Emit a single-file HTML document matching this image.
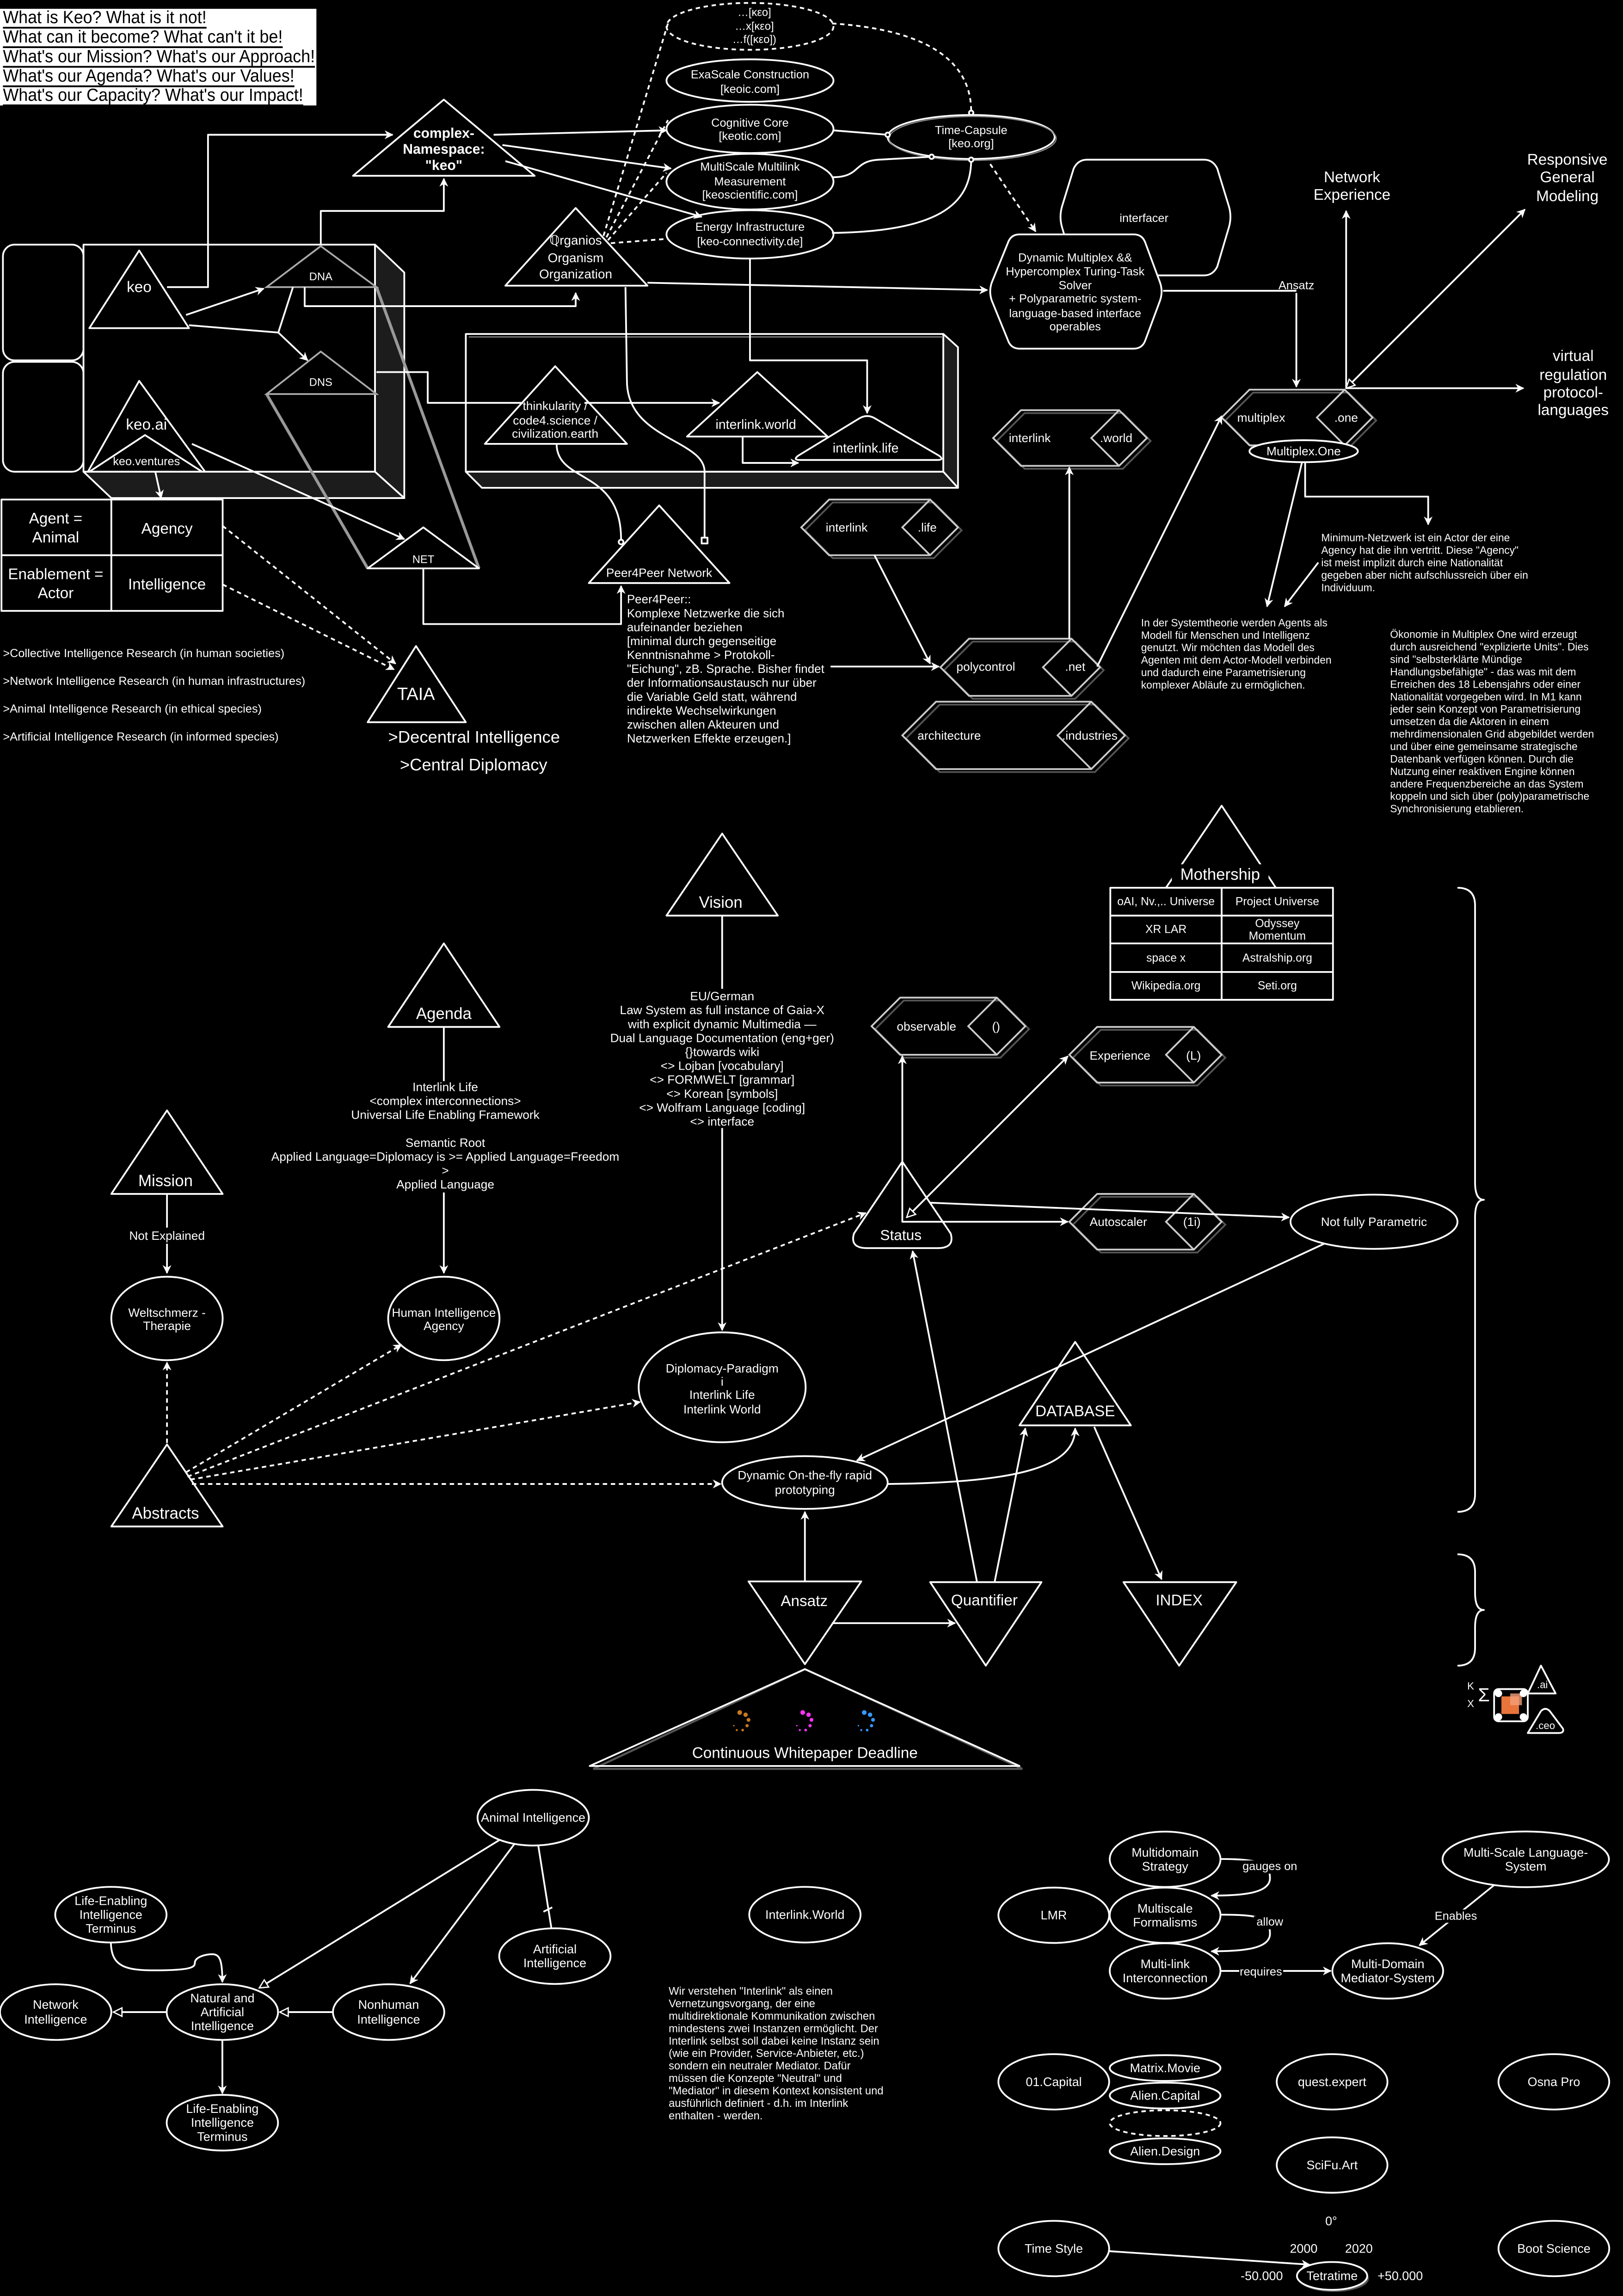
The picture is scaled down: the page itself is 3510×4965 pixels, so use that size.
<!DOCTYPE html>
<html><head><meta charset="utf-8"><style>
html,body{margin:0;padding:0;background:#000;}
svg{display:block;}
text{font-family:"Liberation Sans",Arial,sans-serif;fill:#fff;dominant-baseline:central;}
.s{stroke:#fff;stroke-width:1.2;fill:none;stroke-linejoin:round;}
.g{stroke:#aaa;stroke-width:1.2;fill:none;}
.d{stroke:#fff;stroke-width:1.2;fill:none;stroke-dasharray:3 2.5;}
.m{text-anchor:middle;}
</style></head><body>
<svg xmlns="http://www.w3.org/2000/svg" width="3510" height="4965" viewBox="0 0 1108 1567.3">
<defs>
<marker id="a" viewBox="0 0 10 10" refX="9" refY="5" markerWidth="5" markerHeight="5" orient="auto-start-reverse"><path d="M0,0 L10,5 L0,10 L3,5z" fill="#fff"/></marker>
<marker id="h" viewBox="0 0 10 10" refX="9" refY="5" markerWidth="6" markerHeight="6" orient="auto-start-reverse"><path d="M1,1 L9,5 L1,9z" fill="#000" stroke="#fff" stroke-width="1.2"/></marker>
</defs>
<rect width="1108" height="1567.3" fill="#000"/>

<!-- header -->
<rect x="0" y="6" width="216" height="66" fill="#fff"/>
<g font-size="12" style="text-decoration:underline">
<text x="2" y="12" style="fill:#000" textLength="139" lengthAdjust="spacingAndGlyphs">What is Keo? What is it not!</text>
<text x="2" y="25.3" style="fill:#000" textLength="191" lengthAdjust="spacingAndGlyphs">What can it become? What can't it be!</text>
<text x="2" y="38.7" style="fill:#000" textLength="213" lengthAdjust="spacingAndGlyphs">What's our Mission? What's our Approach!</text>
<text x="2" y="52" style="fill:#000" textLength="199" lengthAdjust="spacingAndGlyphs">What's our Agenda? What's our Values!</text>
<text x="2" y="65" style="fill:#000" textLength="205" lengthAdjust="spacingAndGlyphs">What's our Capacity? What's our Impact!</text>
</g>

<!-- big 3D box -->
<polygon points="256,167 276,186 276,340 256,322" style="fill:#1c1c1c" class="s"/>
<polygon points="57,322 256,322 276,340 76,340" style="fill:#1c1c1c" class="s"/>
<rect x="57" y="167" width="199" height="155" class="s"/>
<rect x="2" y="167" width="55" height="79" rx="8" class="s"/>
<rect x="2" y="247" width="55" height="75" rx="8" class="s"/>

<!-- box2 -->
<polygon points="644,228 654,237 654,333 644,322" style="fill:#1c1c1c" class="s"/>
<polygon points="318,322 644,322 654,333 329,333" style="fill:#1c1c1c" class="s"/>
<rect x="318" y="228" width="326" height="94" class="s"/>
<line x1="320" y1="230" x2="644" y2="230" stroke="#888" stroke-width="0.8"/>

<!-- gray prism lines -->
<line x1="182" y1="269" x2="251" y2="388" stroke="#999" stroke-width="2"/>
<line x1="257" y1="196" x2="327" y2="388" stroke="#999" stroke-width="2"/>
<polygon points="219,168 182,196 257,196" class="g"/>
<polygon points="219,240 182,269 257,269" class="g"/>
<text x="219" y="189" class="m" font-size="7.5">DNA</text>
<text x="219" y="261" class="m" font-size="7.5">DNS</text>
<polygon points="289,360 251,388 327,388" class="s"/>
<text x="289" y="382" class="m" font-size="7.5">NET</text>

<!-- keo triangles -->
<polygon points="95,171 61,224 129,224" class="s"/>
<text x="95" y="196" class="m" font-size="10.5">keo</text>
<polygon points="95,260 60,322 140,322" class="s"/>
<text x="100" y="290" class="m" font-size="10.5">keo.ai</text>
<polygon points="99,297 61,322 138,322" class="s"/>
<text x="100" y="315" class="m" font-size="8">keo.ventures</text>

<!-- table -->
<rect x="1" y="341" width="151" height="76" class="s"/>
<line x1="76" y1="341" x2="76" y2="417" class="s"/>
<line x1="1" y1="379" x2="152" y2="379" class="s"/>
<text x="38" y="354" class="m" font-size="10.5">Agent =</text>
<text x="38" y="367" class="m" font-size="10.5">Animal</text>
<text x="114" y="361" class="m" font-size="10.5">Agency</text>
<text x="38" y="392" class="m" font-size="10.5">Enablement =</text>
<text x="38" y="405" class="m" font-size="10.5">Actor</text>
<text x="114" y="399" class="m" font-size="10.5">Intelligence</text>

<!-- complex namespace -->
<polygon points="303,68 241,120 365,120" class="s"/>
<g font-size="9.5" font-weight="bold"><text x="303" y="91" class="m">complex-</text><text x="303" y="102" class="m">Namespace:</text><text x="303" y="113" class="m">"keo"</text></g>

<!-- organism -->
<polygon points="393,142 345,195 442,195" class="s"/>
<g font-size="8.8"><text x="393" y="164" class="m">ℚrganios</text><text x="393" y="176" class="m">Organism</text><text x="393" y="187" class="m">Organization</text></g>

<!-- ellipses top -->
<ellipse cx="512" cy="18" rx="57" ry="16" class="d" stroke="#aaa"/>
<g font-size="7.5"><text x="515" y="8.5" class="m">…[κεο]</text><text x="515" y="18" class="m">…x[κεο]</text><text x="515" y="27" class="m">…f([κεο])</text></g>
<ellipse cx="512" cy="55" rx="57" ry="14.5" class="s"/>
<g font-size="8"><text x="512" y="51" class="m">ExaScale Construction</text><text x="512" y="61" class="m">[keoic.com]</text></g>
<ellipse cx="512" cy="88" rx="57" ry="16.5" class="s"/>
<g font-size="8"><text x="512" y="84" class="m">Cognitive Core</text><text x="512" y="93" class="m">[keotic.com]</text></g>
<ellipse cx="512" cy="124" rx="57" ry="19" class="s"/>
<g font-size="8"><text x="512" y="114" class="m">MultiScale Multilink</text><text x="512" y="124" class="m">Measurement</text><text x="512" y="133" class="m">[keoscientific.com]</text></g>
<ellipse cx="512" cy="160" rx="57" ry="16.5" class="s"/>
<g font-size="8"><text x="512" y="155" class="m">Energy Infrastructure</text><text x="512" y="165" class="m">[keo-connectivity.de]</text></g>
<ellipse cx="663" cy="93.5" rx="57" ry="15" class="s"/>
<ellipse cx="664" cy="94.5" rx="57" ry="15" stroke="#888" fill="none" stroke-width="0.8"/>
<g font-size="8"><text x="663" y="89" class="m">Time-Capsule</text><text x="663" y="98" class="m">[keo.org]</text></g>

<!-- interfacer / dynamic -->
<path d="M742,109 L822,109 Q828,109 831,115 L839,141 Q841,148 839,155 L831,182 Q828,188 822,188 L742,188 Q736,188 733,182 L725,155 Q723,148 725,141 L733,115 Q736,109 742,109 Z" class="s" stroke="#ccc" stroke-width="1.6"/>
<text x="781" y="149" class="m" font-size="8">interfacer</text>
<path d="M696,160 L774,160 Q780,160 782,166 L792,193 Q794,199 792,205 L782,232 Q780,238 774,238 L696,238 Q690,238 688,232 L677,205 Q675,199 677,193 L688,166 Q690,160 696,160 Z" style="fill:#000" class="s" stroke="#ccc" stroke-width="1.6"/>
<g font-size="8"><text x="734" y="176" class="m">Dynamic Multiplex &amp;&amp;</text><text x="734" y="185.5" class="m">Hypercomplex Turing-Task</text><text x="734" y="195" class="m">Solver</text><text x="734" y="204" class="m">+ Polyparametric system-</text><text x="734" y="214" class="m">language-based interface</text><text x="734" y="223" class="m">operables</text></g>

<!-- connectors top -->
<polyline points="114,196 142,196 142,92 268,92" class="s" marker-end="url(#a)"/>
<polyline points="219,167 219,144 303,144 303,122" class="s" marker-end="url(#a)"/>
<line x1="127" y1="215" x2="180" y2="197" class="s" marker-end="url(#a)"/>
<polyline points="129,222 190,227 210,246" class="s" marker-end="url(#a)"/>
<line x1="200" y1="196" x2="190" y2="227" class="s"/>
<polyline points="208,196 208,209 393,209 393,200" class="s" marker-end="url(#a)"/>
<line x1="337" y1="92" x2="455" y2="89" class="s" marker-end="url(#a)"/>
<line x1="343" y1="99" x2="458" y2="115" class="s" marker-end="url(#a)"/>
<line x1="345" y1="110" x2="479" y2="148" class="s" marker-end="url(#a)"/>
<line x1="442" y1="193" x2="674" y2="198" class="s" marker-end="url(#a)"/>
<polyline points="512,176 512,246 592,246 592,282" class="s" marker-end="url(#a)"/>
<line x1="412" y1="161" x2="456" y2="16" class="d"/>
<line x1="415" y1="164" x2="455" y2="118" class="d"/>
<line x1="417" y1="166" x2="456" y2="163" class="d"/>
<line x1="414" y1="162" x2="456" y2="82" class="d"/>
<path d="M568,16 C630,20 663,40 663,76" class="d"/>
<circle cx="663" cy="77" r="1.5" class="s" style="fill:#000"/>
<line x1="676" y1="112" x2="707" y2="158" class="d" marker-end="url(#a)"/>
<line x1="569" y1="89" x2="606" y2="92" class="s"/>
<circle cx="606" cy="92" r="1.5" class="s" style="fill:#000"/>
<path d="M568,121 C588,121 582,110 600,109 L636,107" class="s"/>
<circle cx="636" cy="107" r="1.5" class="s" style="fill:#000"/>
<path d="M568,159 C640,158 663,140 663,109" class="s"/>
<circle cx="663" cy="109" r="1.5" class="s" style="fill:#000"/>

<!-- Ansatz / multiplex axes -->
<polyline points="794,198.5 885,198.5" class="s"/>
<text x="885" y="195" class="m" font-size="8">Ansatz</text>
<line x1="885" y1="200" x2="885" y2="264" class="s" marker-end="url(#a)"/>
<line x1="919" y1="265" x2="919" y2="144" class="s" marker-end="url(#a)"/>
<line x1="919" y1="265" x2="1041" y2="143" class="s" marker-start="url(#h)" marker-end="url(#a)"/>
<line x1="919" y1="265" x2="1040" y2="265" class="s" marker-end="url(#a)"/>
<g font-size="10.5"><text x="923" y="121" class="m">Network</text><text x="923" y="133" class="m">Experience</text>
<text x="1070" y="109" class="m">Responsive</text><text x="1070" y="121" class="m">General</text><text x="1070" y="134" class="m">Modeling</text>
<text x="1074" y="243" class="m">virtual</text><text x="1074" y="256" class="m">regulation</text><text x="1074" y="268" class="m">protocol-</text><text x="1074" y="280" class="m">languages</text></g>

<!-- hexes -->
<g stroke="#555" stroke-width="1.2" fill="none" transform="translate(2.5,2)">
<polygon points="834,285 853,266 918,266 937,285 918,304 853,304"/>
<polygon points="678,299 697,280 764,280 783,299 764,318 697,318"/>
<polygon points="547,360 566,341 635,341 654,360 635,379 566,379"/>
<polygon points="642,455.5 661.5,436 731.5,436 751,455.5 731.5,475 661.5,475"/>
<polygon points="616,502 639,479 745,479 768,502 745,525 639,525"/>
<polygon points="595,700.5 614.5,681 680.5,681 700,700.5 680.5,720 614.5,720"/>
<polygon points="730,720 749,701 815,701 834,720 815,739 749,739"/>
<polygon points="730,834 749,815 815,815 834,834 815,853 749,853"/>
</g>
<g stroke="#ccc" stroke-width="1.2" fill="none">
<polygon points="834,285 853,266 918,266 937,285 918,304 853,304"/><polyline points="918,266 899,285 918,304"/>
<polygon points="678,299 697,280 764,280 783,299 764,318 697,318"/><polyline points="764,280 745,299 764,318"/>
<polygon points="547,360 566,341 635,341 654,360 635,379 566,379"/><polyline points="635,341 616,360 635,379"/>
<polygon points="642,455.5 661.5,436 731.5,436 751,455.5 731.5,475 661.5,475"/><polyline points="731.5,436 712,455.5 731.5,475"/>
<polygon points="616,502 639,479 745,479 768,502 745,525 639,525"/><polyline points="745,479 722,502 745,525"/>
<polygon points="595,700.5 614.5,681 680.5,681 700,700.5 680.5,720 614.5,720"/><polyline points="680.5,681 661,700.5 680.5,720"/>
<polygon points="730,720 749,701 815,701 834,720 815,739 749,739"/><polyline points="815,701 796,720 815,739"/>
<polygon points="730,834 749,815 815,815 834,834 815,853 749,853"/><polyline points="815,815 796,834 815,853"/>
</g>
<g font-size="8.3">
<text x="861" y="285" class="m">multiplex</text><text x="919" y="285" class="m">.one</text>
<text x="703" y="299" class="m">interlink</text><text x="762" y="299" class="m">.world</text>
<text x="578" y="360" class="m">interlink</text><text x="633" y="360" class="m">.life</text>
<text x="673" y="455" class="m">polycontrol</text><text x="734" y="455" class="m">.net</text>
<text x="648" y="502" class="m">architecture</text><text x="744" y="502" class="m">.industries</text>
<text x="632.5" y="700.6" class="m">observable</text><text x="680" y="700.6" class="m">()</text>
<text x="764.6" y="720.5" class="m">Experience</text><text x="814.8" y="720.5" class="m">(L)</text>
<text x="763.5" y="834" class="m">Autoscaler</text><text x="813.7" y="834" class="m">(1i)</text>
</g>
<ellipse cx="890" cy="308" rx="37" ry="7.5" class="s" style="fill:#000"/>
<text x="890" y="308" class="m" font-size="8.3">Multiplex.One</text>

<!-- box2 triangles -->
<polygon points="379,250 331,303 428,303" class="s"/>
<g font-size="8.3"><text x="379" y="277" class="m">thinkularity /</text><text x="379" y="287" class="m">code4.science /</text><text x="379" y="296" class="m">civilization.earth</text></g>
<polygon points="517,254 469,298 565,298" class="s"/>
<text x="516" y="290" class="m" font-size="9">interlink.world</text>
<path d="M586,286 Q592,282 598,286 L641,311 Q645,314 640,314 L546,314 Q541,314 545,311 Z" class="s"/>
<text x="591" y="306" class="m" font-size="9">interlink.life</text>
<polyline points="257,254 292,254 292,275 357,275" class="s"/>
<line x1="399" y1="275" x2="491" y2="275" class="s" marker-end="url(#a)"/>
<polyline points="507,298 507,316 545,316" class="s" marker-end="url(#a)"/>

<!-- peer4peer -->
<path d="M427,196 L428,260 C428,300 481,300 481,322 L481,368" class="s"/>
<rect x="479" y="367" width="4" height="4" class="s" style="fill:#000"/>
<path d="M380,303 C380,330 424,320 424,368" class="s"/>
<circle cx="424" cy="370" r="1.6" class="s" style="fill:#000"/>
<polygon points="450,345 402,398 498,398" class="s"/>
<text x="450" y="391" font-size="8.3" class="m">Peer4Peer Network</text>
<polyline points="289,388 289,426 424,426 424,400" class="s" marker-end="url(#a)"/>
<g font-size="8.2"><text x="428" y="409">Peer4Peer::</text><text x="428" y="418.5">Komplexe Netzwerke die sich</text><text x="428" y="428">aufeinander beziehen</text><text x="428" y="437.5">[minimal durch gegenseitige</text><text x="428" y="447">Kenntnisnahme &gt; Protokoll-</text><text x="428" y="456.5">"Eichung", zB. Sprache. Bisher findet</text><text x="428" y="466">der Informationsaustausch nur über</text><text x="428" y="475.5">die Variable Geld statt, während</text><text x="428" y="485">indirekte Wechselwirkungen</text><text x="428" y="494.5">zwischen allen Akteuren und</text><text x="428" y="504">Netzwerken Effekte erzeugen.]</text></g>
<line x1="567" y1="455" x2="641" y2="455" class="s" marker-end="url(#a)"/>
<line x1="131" y1="303" x2="276" y2="368" class="s" marker-end="url(#a)"/>
<line x1="106" y1="322" x2="110" y2="340" class="s" marker-end="url(#a)"/>
<line x1="152" y1="359" x2="270" y2="453" class="d" marker-end="url(#a)"/>
<line x1="152" y1="399" x2="269" y2="457" class="d" marker-end="url(#a)"/>
<polygon points="284,441 251,493 318,493" class="s"/>
<text x="284" y="474" class="m" font-size="12">TAIA</text>
<text x="265" y="503" font-size="11.5">&gt;Decentral Intelligence</text>
<text x="273" y="522" font-size="11.5">&gt;Central Diplomacy</text>
<g font-size="8"><text x="2" y="446">&gt;Collective Intelligence Research (in human societies)</text><text x="2" y="465">&gt;Network Intelligence Research (in human infrastructures)</text><text x="2" y="484">&gt;Animal Intelligence Research (in ethical species)</text><text x="2" y="503">&gt;Artificial Intelligence Research (in informed species)</text></g>

<!-- multiplex connectors -->
<line x1="597" y1="379" x2="635" y2="453" class="s" marker-end="url(#a)"/>
<line x1="730" y1="436" x2="730" y2="319" class="s" marker-end="url(#a)"/>
<line x1="749" y1="455" x2="834" y2="284" class="s" marker-end="url(#a)"/>
<line x1="889" y1="315" x2="865" y2="414" class="s" marker-end="url(#a)"/>
<polyline points="891,315 891,339 975,339 975,358" class="s" marker-end="url(#a)"/>
<line x1="900" y1="384" x2="877" y2="414" class="s" marker-end="url(#a)"/>
<g font-size="7.2"><text x="902" y="367">Minimum-Netzwerk ist ein Actor der eine</text><text x="902" y="375.5">Agency hat die ihn vertritt. Diese "Agency"</text><text x="902" y="384">ist meist implizit durch eine Nationalität</text><text x="902" y="392.5">gegeben aber nicht aufschlussreich über ein</text><text x="902" y="401">Individuum.</text></g>
<g font-size="7.2"><text x="779" y="425">In der Systemtheorie werden Agents als</text><text x="779" y="433.5">Modell für Menschen und Intelligenz</text><text x="779" y="442">genutzt. Wir möchten das Modell des</text><text x="779" y="450.5">Agenten mit dem Actor-Modell verbinden</text><text x="779" y="459">und dadurch eine Parametrisierung</text><text x="779" y="467.5">komplexer Abläufe zu ermöglichen.</text></g>
<g font-size="7.2"><text x="949" y="433">Ökonomie in Multiplex One wird erzeugt</text><text x="949" y="441.5">durch ausreichend "explizierte Units". Dies</text><text x="949" y="450">sind "selbsterklärte Mündige</text><text x="949" y="458.5">Handlungsbefähigte" - das was mit dem</text><text x="949" y="467">Erreichen des 18 Lebensjahrs oder einer</text><text x="949" y="475.5">Nationalität vorgegeben wird. In M1 kann</text><text x="949" y="484">jeder sein Konzept von Parametrisierung</text><text x="949" y="492.5">umsetzen da die Aktoren in einem</text><text x="949" y="501">mehrdimensionalen Grid abgebildet werden</text><text x="949" y="509.5">und über eine gemeinsame strategische</text><text x="949" y="518">Datenbank verfügen können. Durch die</text><text x="949" y="526.5">Nutzung einer reaktiven Engine können</text><text x="949" y="535">andere Frequenzbereiche an das System</text><text x="949" y="543.5">koppeln und sich über (poly)parametrische</text><text x="949" y="552">Synchronisierung etablieren.</text></g>

<!-- middle section -->
<polygon points="493,569 455,625 531,625" class="s"/>
<text x="492" y="616" class="m" font-size="11">Vision</text>
<line x1="493" y1="625" x2="493" y2="675" class="s"/>
<g font-size="8.3"><text x="493" y="680" class="m">EU/German</text><text x="493" y="689.5" class="m">Law System as full instance of Gaia-X</text><text x="493" y="699" class="m">with explicit dynamic Multimedia —</text><text x="493" y="708.5" class="m">Dual Language Documentation (eng+ger)</text><text x="493" y="718" class="m">{}towards wiki</text><text x="493" y="727.5" class="m">&lt;&gt; Lojban [vocabulary]</text><text x="493" y="737" class="m">&lt;&gt; FORMWELT [grammar]</text><text x="493" y="746.5" class="m">&lt;&gt; Korean [symbols]</text><text x="493" y="756" class="m">&lt;&gt; Wolfram Language [coding]</text><text x="493" y="765.5" class="m">&lt;&gt; interface</text></g>
<line x1="493" y1="770" x2="493" y2="908" class="s" marker-end="url(#a)"/>
<ellipse cx="493" cy="947" rx="57" ry="37.5" class="s"/>
<g font-size="8.3"><text x="493" y="934" class="m">Diplomacy-Paradigm</text><text x="493" y="943" class="m">i</text><text x="493" y="952" class="m">Interlink Life</text><text x="493" y="962" class="m">Interlink World</text></g>

<polygon points="303,644 265,701 341,701" class="s"/>
<text x="303" y="692" class="m" font-size="11">Agenda</text>
<line x1="303" y1="701" x2="303" y2="738" class="s"/>
<g font-size="8.3"><text x="304" y="742" class="m">Interlink Life</text><text x="304" y="751.5" class="m">&lt;complex interconnections&gt;</text><text x="304" y="761" class="m">Universal Life Enabling Framework</text><text x="304" y="780" class="m">Semantic Root</text><text x="304" y="789.5" class="m">Applied Language=Diplomacy is &gt;= Applied Language=Freedom</text><text x="304" y="799" class="m">&gt;</text><text x="304" y="808.5" class="m">Applied Language</text></g>
<line x1="303" y1="814" x2="303" y2="869" class="s" marker-end="url(#a)"/>
<ellipse cx="303" cy="900" rx="38" ry="28.5" class="s"/>
<g font-size="8.3"><text x="303" y="896" class="m">Human Intelligence</text><text x="303" y="905" class="m">Agency</text></g>

<polygon points="114,758 76,815 152,815" class="s"/>
<text x="113" y="806" class="m" font-size="11">Mission</text>
<line x1="114" y1="815" x2="114" y2="869" class="s" marker-end="url(#a)"/>
<rect x="86" y="838" width="56" height="11" fill="#000"/>
<text x="114" y="843.5" class="m" font-size="8.3">Not Explained</text>
<ellipse cx="114" cy="900" rx="38" ry="28.5" class="s"/>
<g font-size="8.3"><text x="114" y="896" class="m">Weltschmerz -</text><text x="114" y="905" class="m">Therapie</text></g>

<polygon points="114,986 76,1042 152,1042" class="s"/>
<text x="113" y="1033" class="m" font-size="11">Abstracts</text>
<line x1="114" y1="985" x2="114" y2="930" class="d" marker-end="url(#a)"/>
<line x1="127" y1="1005" x2="274" y2="918" class="d" marker-end="url(#a)"/>
<line x1="128" y1="1008" x2="591" y2="828" class="d" marker-end="url(#a)"/>
<line x1="130" y1="1010" x2="437" y2="957" class="d" marker-end="url(#a)"/>
<line x1="131" y1="1013" x2="492" y2="1013" class="d" marker-end="url(#a)"/>

<ellipse cx="549.5" cy="1012" rx="56.5" ry="18" class="s"/>
<g font-size="8.3"><text x="549.5" y="1007" class="m">Dynamic On-the-fly rapid</text><text x="549.5" y="1017" class="m">prototyping</text></g>

<!-- mothership -->
<polygon points="834,550 796,606 871,606" class="s"/>
<rect x="800" y="590" width="66" height="14" fill="#000"/>
<text x="833" y="597" class="m" font-size="11">Mothership</text>
<g class="s" stroke-width="1.5"><rect x="758" y="606" width="152" height="76.5"/><line x1="834" y1="606" x2="834" y2="682.5"/><line x1="758" y1="625" x2="910" y2="625"/><line x1="758" y1="644" x2="910" y2="644"/><line x1="758" y1="663.5" x2="910" y2="663.5"/></g>
<g font-size="7.8"><text x="796" y="615.5" class="m">oAI, Nv.,.. Universe</text><text x="872" y="615.5" class="m">Project Universe</text><text x="796" y="634.5" class="m">XR LAR</text><text x="872" y="630.5" class="m">Odyssey</text><text x="872" y="639" class="m">Momentum</text><text x="796" y="654" class="m">space x</text><text x="872" y="654" class="m">Astralship.org</text><text x="796" y="673" class="m">Wikipedia.org</text><text x="872" y="673" class="m">Seti.org</text></g>

<!-- status -->
<path d="M616,793 L583,842 Q580,852 592,852 L640,852 Q652,852 649,842 Z" class="s"/>
<text x="615" y="843" class="m" font-size="10">Status</text>
<line x1="616" y1="832" x2="616" y2="721" class="s" marker-end="url(#a)"/>
<polyline points="616,832 616,834 729,834" class="s" marker-end="url(#a)"/>
<line x1="619" y1="831" x2="729" y2="721" class="s" marker-start="url(#h)" marker-end="url(#a)"/>
<line x1="635" y1="821" x2="880" y2="831" class="s" marker-end="url(#a)"/>
<ellipse cx="938" cy="834" rx="57" ry="18.5" class="s"/>
<text x="938" y="834" class="m" font-size="8.3">Not fully Parametric</text>
<line x1="904" y1="849" x2="585" y2="997" class="s" marker-end="url(#a)"/>

<polygon points="734,916 696,973 772,973" class="s"/>
<text x="734" y="963.5" class="m" font-size="10.5">DATABASE</text>
<path d="M606,1013 C700,1012 734,1000 734,975" class="s" marker-end="url(#a)"/>
<line x1="679" y1="1080" x2="700" y2="975" class="s" marker-end="url(#a)"/>
<line x1="667" y1="1080" x2="623" y2="854" class="s" marker-end="url(#a)"/>
<line x1="747" y1="974" x2="793" y2="1078" class="s" marker-end="url(#a)"/>

<polygon points="635,1080 711,1080 673,1137" class="s"/>
<text x="672" y="1092.5" class="m" font-size="10.5">Quantifier</text>
<polygon points="767,1080 844,1080 805,1137" class="s"/>
<text x="805" y="1092.5" class="m" font-size="10.5">INDEX</text>
<polygon points="511,1079.5 588,1079.5 549.5,1136" class="s"/>
<text x="549" y="1093" class="m" font-size="10.5">Ansatz</text>
<line x1="549.5" y1="1079" x2="549.5" y2="1032" class="s" marker-end="url(#a)"/>
<line x1="568" y1="1108" x2="652" y2="1108" class="s" marker-end="url(#a)"/>

<polygon points="549.5,1139.4 405,1207.5 698,1207.5" fill="none" stroke="#555" stroke-width="1.4"/>
<polygon points="549.5,1139.4 402.6,1205.5 696,1205.5" class="s"/>
<text x="549.5" y="1196.7" class="m" font-size="10.5">Continuous Whitepaper Deadline</text>
<g fill="#c87a1e"><circle cx="505" cy="1169" r="1.6"/><circle cx="509" cy="1170.5" r="1.5"/><circle cx="511" cy="1174" r="1.3"/><circle cx="510" cy="1178" r="1.1"/><circle cx="507" cy="1181" r="0.9"/><circle cx="503" cy="1181" r="0.7"/><circle cx="501" cy="1178" r="0.5"/></g>
<g fill="#ff33ff"><circle cx="548" cy="1169" r="1.6"/><circle cx="552" cy="1170.5" r="1.5"/><circle cx="554" cy="1174" r="1.3"/><circle cx="553" cy="1178" r="1.1"/><circle cx="550" cy="1181" r="0.9"/><circle cx="546" cy="1181" r="0.7"/><circle cx="544" cy="1178" r="0.5"/></g>
<g fill="#3399ff"><circle cx="590" cy="1169" r="1.6"/><circle cx="594" cy="1170.5" r="1.5"/><circle cx="596" cy="1174" r="1.3"/><circle cx="595" cy="1178" r="1.1"/><circle cx="592" cy="1181" r="0.9"/><circle cx="588" cy="1181" r="0.7"/><circle cx="586" cy="1178" r="0.5"/></g>

<!-- braces -->
<path d="M995,606 Q1007,606 1007,618 L1007,807 Q1007,819 1013,819 Q1007,819 1007,831 L1007,1020 Q1007,1032 995,1032" class="s"/>
<path d="M995,1061 Q1007,1061 1007,1073 L1007,1087 Q1007,1099 1013,1099 Q1007,1099 1007,1111 L1007,1125 Q1007,1137 995,1137" class="s"/>

<!-- logo -->
<text x="1004" y="1151" class="m" font-size="7">K</text>
<text x="1004" y="1163" class="m" font-size="7">X</text>
<text x="1013" y="1157" class="m" font-size="13">Σ</text>
<rect x="1020" y="1153" width="23" height="22" rx="3" class="s" style="fill:#000"/>
<rect x="1025" y="1158" width="12" height="12" fill="#e8743b"/>
<rect x="1031" y="1156" width="8" height="8" fill="#f4a07a" opacity="0.8"/>
<circle cx="1023" cy="1156" r="2.5" fill="#fff"/><circle cx="1040" cy="1156" r="2.5" fill="#fff"/><circle cx="1023" cy="1172" r="2.5" fill="#fff"/><circle cx="1040" cy="1172" r="2.5" fill="#fff"/>
<polygon points="1052,1137 1043,1156 1062,1156" class="s"/>
<text x="1053" y="1150" class="m" font-size="7">.ai</text>
<path d="M1043,1183 L1052,1168 Q1055,1165 1058,1168 L1067,1180 Q1068,1183 1064,1183 Z" class="s"/>
<text x="1055" y="1178" class="m" font-size="7">.ceo</text>

<!-- intelligence cluster -->
<g font-size="8.5">
<ellipse cx="364" cy="1240.8" rx="38" ry="19" class="s"/><text x="364" y="1240.8" class="m">Animal Intelligence</text>
<ellipse cx="75.7" cy="1307" rx="38" ry="19" class="s"/><text x="75.7" y="1297.5" class="m">Life-Enabling</text><text x="75.7" y="1307" class="m">Intelligence</text><text x="75.7" y="1316.5" class="m">Terminus</text>
<ellipse cx="38" cy="1373.5" rx="38" ry="19" class="s"/><text x="38" y="1368.5" class="m">Network</text><text x="38" y="1378.5" class="m">Intelligence</text>
<ellipse cx="151.8" cy="1373.5" rx="38" ry="19" class="s"/><text x="151.8" y="1364" class="m">Natural and</text><text x="151.8" y="1373.5" class="m">Artificial</text><text x="151.8" y="1383" class="m">Intelligence</text>
<ellipse cx="265.3" cy="1373.5" rx="38" ry="19" class="s"/><text x="265.3" y="1368.5" class="m">Nonhuman</text><text x="265.3" y="1378.5" class="m">Intelligence</text>
<ellipse cx="378.8" cy="1335.3" rx="38" ry="19" class="s"/><text x="378.8" y="1330.5" class="m">Artificial</text><text x="378.8" y="1340" class="m">Intelligence</text>
<ellipse cx="151.8" cy="1449" rx="38" ry="19" class="s"/><text x="151.8" y="1439.5" class="m">Life-Enabling</text><text x="151.8" y="1449" class="m">Intelligence</text><text x="151.8" y="1458.5" class="m">Terminus</text>
<ellipse cx="549.5" cy="1307" rx="38" ry="19" class="s"/><text x="549.5" y="1307" class="m">Interlink.World</text>
</g>
<line x1="341" y1="1256" x2="177" y2="1357" class="s" marker-end="url(#h)"/>
<line x1="351" y1="1259" x2="280" y2="1354" class="s" marker-end="url(#a)"/>
<line x1="367.5" y1="1260" x2="376.4" y2="1316" class="s"/>
<line x1="371" y1="1305" x2="377" y2="1302" class="s"/>
<line x1="227.5" y1="1373.5" x2="191" y2="1373.5" class="s" marker-end="url(#h)"/>
<line x1="114" y1="1373.5" x2="77.5" y2="1373.5" class="s" marker-end="url(#h)"/>
<line x1="151.8" y1="1392.5" x2="151.8" y2="1429" class="s" marker-end="url(#a)"/>
<path d="M75.7,1326 C76,1342 85,1345 105,1345 C130,1345 133,1343 133,1340 C133,1336 140,1334 145,1334 C150,1334 151.8,1338 151.8,1353" class="s" marker-end="url(#a)"/>
<g font-size="7.5"><text x="456.5" y="1359.3">Wir verstehen "Interlink" als einen</text><text x="456.5" y="1367.8">Vernetzungsvorgang, der eine</text><text x="456.5" y="1376.3">multidirektionale Kommunikation zwischen</text><text x="456.5" y="1384.8">mindestens zwei Instanzen ermöglicht. Der</text><text x="456.5" y="1393.3">Interlink selbst soll dabei keine Instanz sein</text><text x="456.5" y="1401.8">(wie ein Provider, Service-Anbieter, etc.)</text><text x="456.5" y="1410.3">sondern ein neutraler Mediator. Dafür</text><text x="456.5" y="1418.8">müssen die Konzepte "Neutral" und</text><text x="456.5" y="1427.3">"Mediator" in diesem Kontext konsistent und</text><text x="456.5" y="1435.8">ausführlich definiert - d.h. im Interlink</text><text x="456.5" y="1444.3">enthalten - werden.</text></g>

<!-- bottom right cluster -->
<g font-size="8.5">
<ellipse cx="795.4" cy="1269.2" rx="37.8" ry="18.9" class="s"/><text x="795.4" y="1264.5" class="m">Multidomain</text><text x="795.4" y="1274" class="m">Strategy</text>
<ellipse cx="719.4" cy="1307.4" rx="37.8" ry="18.9" class="s"/><text x="719.4" y="1307.4" class="m">LMR</text>
<ellipse cx="795.4" cy="1307.4" rx="37.8" ry="18.9" class="s"/><text x="795.4" y="1302.7" class="m">Multiscale</text><text x="795.4" y="1312.2" class="m">Formalisms</text>
<ellipse cx="795.4" cy="1345.4" rx="37.8" ry="18.9" class="s"/><text x="795.4" y="1340.7" class="m">Multi-link</text><text x="795.4" y="1350.2" class="m">Interconnection</text>
<ellipse cx="947.4" cy="1345.4" rx="37.8" ry="18.9" class="s"/><text x="947.4" y="1340.7" class="m">Multi-Domain</text><text x="947.4" y="1350.2" class="m">Mediator-System</text>
<ellipse cx="1041.6" cy="1269.2" rx="56.8" ry="19" class="s"/><text x="1041.6" y="1264.5" class="m">Multi-Scale Language-</text><text x="1041.6" y="1274" class="m">System</text>
<ellipse cx="719.4" cy="1421.1" rx="37.8" ry="18.9" class="s"/><text x="719.4" y="1421.1" class="m">01.Capital</text>
<ellipse cx="795.4" cy="1411.7" rx="37.8" ry="8.8" class="s"/><text x="795.4" y="1411.7" class="m">Matrix.Movie</text>
<ellipse cx="795.4" cy="1430.5" rx="37.8" ry="8.8" class="s"/><text x="795.4" y="1430.5" class="m">Alien.Capital</text>
<ellipse cx="795.4" cy="1449.3" rx="37.8" ry="8.8" class="d"/>
<ellipse cx="795.4" cy="1468.5" rx="37.8" ry="8.8" class="s"/><text x="795.4" y="1468.5" class="m">Alien.Design</text>
<ellipse cx="909.4" cy="1421.1" rx="37.8" ry="18.9" class="s"/><text x="909.4" y="1421.1" class="m">quest.expert</text>
<ellipse cx="1060.8" cy="1421.1" rx="37.8" ry="18.9" class="s"/><text x="1060.8" y="1421.1" class="m">Osna Pro</text>
<ellipse cx="909.4" cy="1477.9" rx="37.8" ry="18.9" class="s"/><text x="909.4" y="1477.9" class="m">SciFu.Art</text>
<ellipse cx="719.4" cy="1534.9" rx="37.8" ry="18.9" class="s"/><text x="719.4" y="1534.9" class="m">Time Style</text>
<ellipse cx="1060.8" cy="1534.9" rx="37.8" ry="18.9" class="s"/><text x="1060.8" y="1534.9" class="m">Boot Science</text>
<text x="908.8" y="1516.1" class="m">0°</text>
<text x="890" y="1534.9" class="m">2000</text><text x="927.7" y="1534.9" class="m">2020</text>
<text x="861.4" y="1553.6" class="m">-50.000</text><text x="955.9" y="1553.6" class="m">+50.000</text>
<ellipse cx="910.5" cy="1555.5" rx="24" ry="9" fill="#555"/>
<ellipse cx="909.4" cy="1553.6" rx="24" ry="9.5" class="s" style="fill:#000"/><text x="909.4" y="1553.6" class="m">Tetratime</text>
</g>
<path d="M833.4,1269 C860,1269 867,1272 867,1282 C867,1292 850,1294 827,1294" class="s" marker-end="url(#a)"/>
<rect x="846" y="1270" width="42" height="9" fill="#000"/>
<text x="866.9" y="1274.1" class="m" font-size="8">gauges on</text>
<path d="M833.4,1307 C860,1307 867,1309 867,1320 C867,1330 850,1332 827,1332" class="s" marker-end="url(#a)"/>
<rect x="856" y="1308" width="22" height="9" fill="#000"/>
<text x="866.9" y="1312" class="m" font-size="8">allow</text>
<line x1="833.4" y1="1345.4" x2="908.5" y2="1345.4" class="s" marker-end="url(#a)"/>
<rect x="846" y="1341" width="30" height="9" fill="#000"/>
<text x="860.8" y="1346" class="m" font-size="8">requires</text>
<line x1="1019.8" y1="1287" x2="969" y2="1328" class="s" marker-end="url(#a)"/>
<rect x="980" y="1303.5" width="28" height="9" fill="#000"/>
<text x="993.9" y="1308" class="m" font-size="8">Enables</text>
<line x1="757.4" y1="1536.7" x2="894" y2="1545.9" class="s" marker-end="url(#a)"/>
</svg>
</body></html>
